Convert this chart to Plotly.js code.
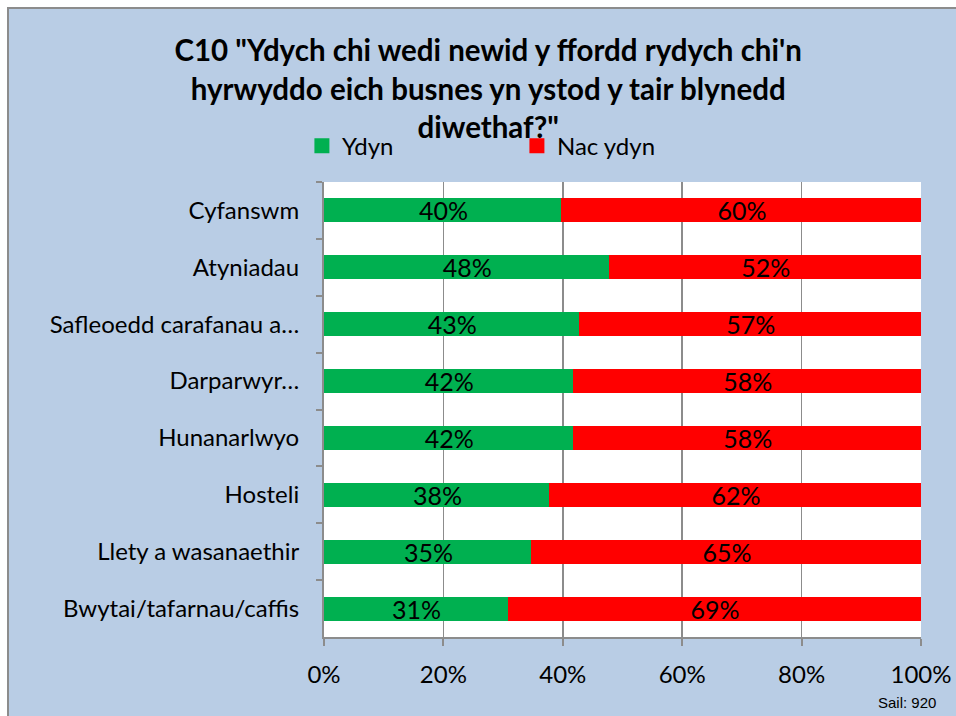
<!DOCTYPE html>
<html>
<head>
<meta charset="utf-8">
<script src="https://cdn.plot.ly/plotly-3.0.1.min.js"></script>
<style>
html,body{margin:0;padding:0;background:#ffffff;width:956px;height:716px;overflow:hidden;}
#frame{position:absolute;left:7px;top:7px;width:949px;height:709px;border-left:2px solid #8c8c8c;border-top:2px solid #8c8c8c;box-sizing:border-box;background:#B9CDE5;}
#chart{position:absolute;left:9px;top:9px;width:947px;height:707px;}
</style>
</head>
<body>
<div id="frame"></div>
<div id="chart"></div>
<script>
const categories = ["Cyfanswm","Atyniadau","Safleoedd carafanau a…","Darparwyr…","Hunanarlwyo","Hosteli","Llety a wasanaethir","Bwytai/tafarnau/caffis"];
const ydyn = [40,48,43,42,42,38,35,31];
const nacYdyn = [60,52,57,58,58,62,65,69];
const seriesNames = ["Ydyn","Nac ydyn"];
const xTicks = [0,20,40,60,80,100];
const xTickText = ["0%","20%","40%","60%","80%","100%"];

const font = "Lato, 'Open Sans', sans-serif";
const mk = (vals, name, color) => ({
  type: 'bar', orientation: 'h', name: name,
  y: categories, x: vals,
  marker: {color: color, line: {width: 3, color: color}},
  text: vals.map(v => v + '%'), textposition: 'inside', insidetextanchor: 'middle',
  constraintext: 'none',
  textfont: {color: '#000000', size: 25, family: font},
  hoverinfo: 'none', cliponaxis: false
});
const data = [mk(ydyn, seriesNames[0], '#00B050'), mk(nacYdyn, seriesNames[1], '#FF0000')];

const layout = {
  width: 947, height: 707,
  paper_bgcolor: '#B9CDE5', plot_bgcolor: '#ffffff',
  barmode: 'stack', bargap: 0.63,
  margin: {l: 315, r: 35, t: 173, b: 79},
  font: {family: font, color: '#000000', size: 24},
  title: {
    text: 'C10 "Ydych chi wedi newid y ffordd rydych chi\'n<br>hyrwyddo eich busnes yn ystod y tair blynedd<br>diwethaf?"',
    font: {family: font, size: 29.5, color: '#000000', weight: 'bold'},
    x: 0.506, xanchor: 'center', xref: 'container',
    y: 0.926, yanchor: 'top', yref: 'container'
  },
  showlegend: true,
  legend: {
    orientation: 'h', x: -0.037, xanchor: 'left', y: 1.079, yanchor: 'middle',
    bgcolor: 'rgba(0,0,0,0)', font: {size: 24, family: font},
    entrywidth: 170, entrywidthmode: 'pixels', traceorder: 'normal'
  },
  xaxis: {
    range: [0, 100], tickvals: xTicks, ticktext: xTickText,
    showgrid: true, gridcolor: '#8c8c8c', gridwidth: 1.5,
    showline: true, linecolor: '#8c8c8c', linewidth: 2,
    ticks: 'outside', ticklen: 7, tickcolor: '#8c8c8c', tickwidth: 2,
    tickfont: {size: 24, family: font}, ticklabelstandoff: 8,
    zeroline: false, fixedrange: true, layer: 'above traces'
  },
  yaxis: {
    type: 'category', autorange: 'reversed',
    showline: true, linecolor: '#8c8c8c', linewidth: 2,
    ticks: 'outside', tickson: 'boundaries', ticklen: 6, tickcolor: '#8c8c8c', tickwidth: 2,
    tickfont: {size: 24, family: font}, ticklabelstandoff: 18,
    showgrid: false, fixedrange: true, layer: 'above traces'
  },
  annotations: [{
    text: 'Sail: 920', xref: 'paper', yref: 'paper', x: 1.028, y: -0.145,
    xanchor: 'right', yanchor: 'middle', showarrow: false,
    font: {family: 'Liberation Sans, Arial, sans-serif', size: 15, color: '#000000'}
  }]
};
Plotly.newPlot('chart', data, layout, {displayModeBar: false, staticPlot: true});
</script>
</body>
</html>
